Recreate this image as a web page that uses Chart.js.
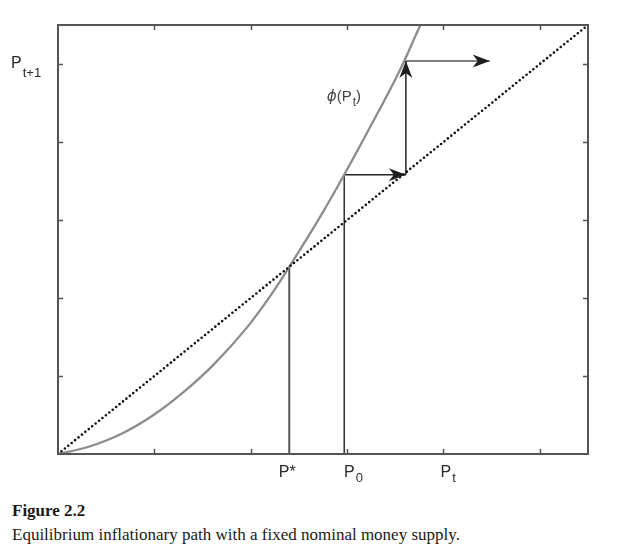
<!DOCTYPE html>
<html><head><meta charset="utf-8">
<script src="https://cdn.jsdelivr.net/npm/chart.js@4.4.1/dist/chart.umd.min.js"></script>
<style>
html,body{margin:0;padding:0;background:#fff;}
#wrap{position:relative;width:634px;height:490px;}
#cap{position:absolute;left:12px;top:500px;font-family:"Liberation Serif","Times New Roman",serif;color:#1a1a1a;}
#cap .t{font-weight:bold;font-size:17px;line-height:22px;}
#cap .d{font-size:17px;line-height:22px;margin-top:2px;}
</style></head>
<body>
<div id="wrap"><canvas id="c" width="634" height="490"></canvas></div>
<div id="cap"><div class="t">Figure 2.2</div><div class="d">Equilibrium inflationary path with a fixed nominal money supply.</div></div>
<script>
// ---- data ----
const axisMin = 0;
const axisMax = 5.5;
const xTicks = [1, 2, 3, 4, 5];
const yTicks = [1, 2, 3, 4, 5];
// phi(P_t) curve
const curveX = [0, 0.31, 0.66, 0.98, 1.28, 1.61, 1.96, 2.20, 2.40, 2.72, 2.97, 3.26, 3.54, 3.75, 3.80];
const curveY = [0, 0.09, 0.26, 0.49, 0.77, 1.14, 1.62, 2.02, 2.40, 3.04, 3.58, 4.24, 4.90, 5.47, 5.60];
// 45-degree line P_{t+1} = P_t
const diagX = [0, 5.5];
const diagY = [0, 5.5];
// key points
const pStar = 2.40;
const p0 = 2.97;
const phiP0 = 3.58;
const p1 = 3.61;
const phiP1 = 5.04;
const arrowOut = 4.48;
// axis labels
const xLabelValues = [pStar, 3, 4];
const xLabelMain = ['P*', 'P', 'P'];
const xLabelSub = ['', '0', 't'];
const yLabelValue = 5;
const yLabelMain = 'P';
const yLabelSub = 't+1';
const phiLabelAt = [2.79, 4.53];

const pts = (xs, ys) => xs.map((v, i) => ({x: v, y: ys[i]}));
const seg = (x1, y1, x2, y2) => [{x: x1, y: y1}, {x: x2, y: y2}];

const arrows = [
  seg(p0, phiP0, p1, phiP0),
  seg(p1, phiP0, p1, phiP1),
  seg(p1, phiP1, arrowOut, phiP1)
];

function lineDs(data, color, width, extra) {
  return Object.assign({data, showLine: true, borderColor: color, borderWidth: width,
    pointRadius: 0, fill: false, tension: 0}, extra || {});
}

const datasets = [
  lineDs(pts(diagX, diagY), '#111', 2.6, {borderDash: [0, 4.4], borderCapStyle: 'round'}),
  lineDs(pts(curveX, curveY), '#8c8c8c', 2.3, {cubicInterpolationMode: 'monotone'}),
  lineDs(seg(pStar, 0, pStar, pStar), '#555', 2),
  lineDs(seg(p0, 0, p0, phiP0), '#111', 1.3),
  lineDs(arrows[0], '#222', 1.5),
  lineDs(arrows[1], '#222', 1.5),
  lineDs(arrows[2], '#555', 1.5)
];

function head(ctx, tx, ty, ang) {
  const L = 17, H = 6.5, N = 5;
  const c = Math.cos(ang), s = Math.sin(ang);
  ctx.beginPath();
  ctx.moveTo(tx, ty);
  ctx.lineTo(tx - L * c - H * s, ty - L * s + H * c);
  ctx.lineTo(tx - (L - N) * c, ty - (L - N) * s);
  ctx.lineTo(tx - L * c + H * s, ty - L * s - H * c);
  ctx.closePath();
  ctx.fill();
}

function subText(ctx, main, sub, x, base, mainFont, subFont, drop, align) {
  ctx.font = mainFont;
  const w1 = ctx.measureText(main).width;
  ctx.font = subFont;
  const w2 = sub ? ctx.measureText(sub).width : 0;
  let sx = x;
  if (align === 'center') sx = x - (w1 + w2) / 2;
  ctx.textAlign = 'left';
  ctx.font = mainFont;
  ctx.fillText(main, sx, base);
  if (sub) { ctx.font = subFont; ctx.fillText(sub, sx + w1 + 1, base + drop); }
  return sx + w1 + 1 + w2;
}

const deco = {
  id: 'deco',
  afterDatasetsDraw(chart) {
    const {ctx, chartArea: a, scales: {x, y}} = chart;
    ctx.save();
    // arrowheads
    ctx.fillStyle = '#1e1e1e';
    arrows.forEach(sg => {
      const sx = x.getPixelForValue(sg[0].x), sy = y.getPixelForValue(sg[0].y);
      const ex = x.getPixelForValue(sg[1].x), ey = y.getPixelForValue(sg[1].y);
      head(ctx, ex, ey, Math.atan2(ey - sy, ex - sx));
    });
    // frame
    ctx.strokeStyle = '#555';
    ctx.lineWidth = 2;
    ctx.strokeRect(a.left, a.top, a.right - a.left, a.bottom - a.top);
    // inside ticks
    ctx.lineWidth = 1.5;
    ctx.beginPath();
    xTicks.forEach(v => {
      const px = Math.round(x.getPixelForValue(v)) + 0.5;
      ctx.moveTo(px, a.bottom); ctx.lineTo(px, a.bottom - 5);
      ctx.moveTo(px, a.top); ctx.lineTo(px, a.top + 5);
    });
    yTicks.forEach(v => {
      const py = Math.round(y.getPixelForValue(v)) + 0.5;
      ctx.moveTo(a.left, py); ctx.lineTo(a.left + 5, py);
      ctx.moveTo(a.right, py); ctx.lineTo(a.right - 5, py);
    });
    ctx.stroke();
    // labels
    ctx.fillStyle = '#2a2a2a';
    ctx.textBaseline = 'alphabetic';
    const mf = '16px "Liberation Sans", Arial, sans-serif';
    const sf = '13px "Liberation Sans", Arial, sans-serif';
    xLabelValues.forEach((v, i) => {
      const px = x.getPixelForValue(v);
      if (i === 0) subText(ctx, xLabelMain[i], xLabelSub[i], px - 2, a.bottom + 23, mf, sf, 4, 'center');
      else subText(ctx, xLabelMain[i], xLabelSub[i], px - 3, a.bottom + 23, mf, sf, 5, 'left');
    });
    subText(ctx, yLabelMain, yLabelSub, 11, y.getPixelForValue(yLabelValue) + 4, mf, sf, 9, 'left');
    // phi label
    const lx = x.getPixelForValue(phiLabelAt[0]), ly = y.getPixelForValue(phiLabelAt[1]);
    ctx.fillStyle = '#444';
    ctx.font = 'italic 15px "DejaVu Sans", sans-serif';
    ctx.textAlign = 'left';
    ctx.fillText('ϕ', lx, ly);
    const wphi = ctx.measureText('ϕ').width;
    const end = subText(ctx, '(P', 't', lx + wphi, ly, '15px "Liberation Sans", Arial, sans-serif', '12px "Liberation Sans", Arial, sans-serif', 5, 'left');
    ctx.font = '15px "Liberation Sans", Arial, sans-serif';
    ctx.fillText(')', end, ly);
    ctx.restore();
  }
};

new Chart(document.getElementById('c'), {
  type: 'scatter',
  data: {datasets},
  options: {
    responsive: false,
    animation: false,
    devicePixelRatio: 1,
    layout: {padding: {left: 58, top: 25, right: 46, bottom: 36}},
    plugins: {legend: {display: false}, tooltip: {enabled: false}},
    scales: {
      x: {type: 'linear', min: axisMin, max: axisMax, display: false},
      y: {type: 'linear', min: axisMin, max: axisMax, display: false}
    }
  },
  plugins: [deco]
});
</script>
</body></html>
